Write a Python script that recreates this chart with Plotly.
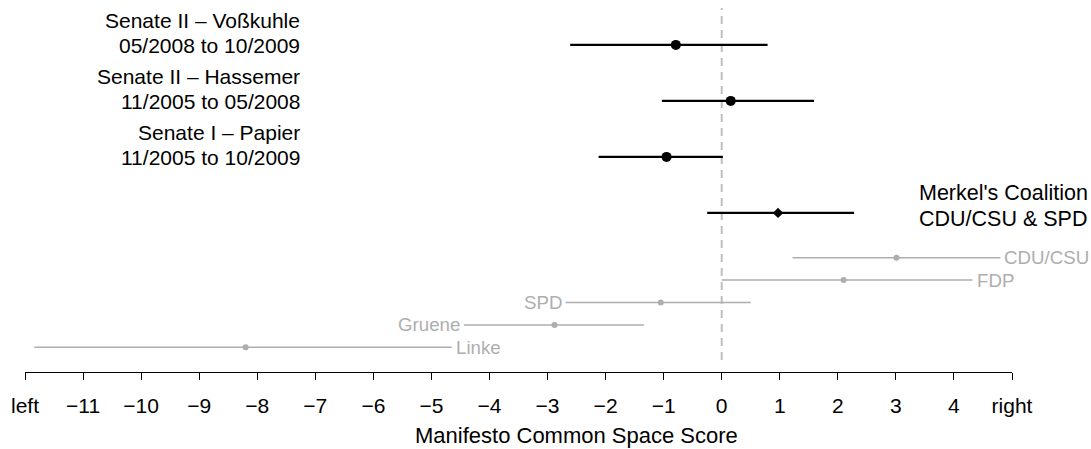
import plotly.graph_objects as go

# ---- data ----
court_names = ["Senate II \u2013 Vo\u00dfkuhle", "Senate II \u2013 Hassemer", "Senate I \u2013 Papier"]
court_periods = ["05/2008 to 10/2009", "11/2005 to 05/2008", "11/2005 to 10/2009"]
court_rows = [13.5, 11, 8.5]
court_mid = [-0.79, 0.155, -0.95]
court_lo = [-2.61, -1.03, -2.12]
court_hi = [0.79, 1.59, 0.02]

coalition_label = ["Merkel's Coalition", "CDU/CSU & SPD"]
coalition_row = 6
coalition_mid = 0.97
coalition_lo = -0.25
coalition_hi = 2.28

parties = ["CDU/CSU", "FDP", "SPD", "Gruene", "Linke"]
party_rows = [4, 3, 2, 1, 0]
party_mid = [3.01, 2.10, -1.05, -2.88, -8.20]
party_lo = [1.22, 0.00, -2.69, -4.44, -11.84]
party_hi = [4.80, 4.32, 0.50, -1.34, -4.65]

tick_vals = list(range(-12, 6))
tick_text = ["left"] + [("\u2212" + str(-v)) if v < 0 else str(v) for v in tick_vals[1:-1]] + ["right"]
x_title = "Manifesto Common Space Score"

# ---- styling ----
FONT = "Liberation Sans, Arial, Helvetica, sans-serif"
GREY = "#AEAEAE"
fig = go.Figure()

# dashed zero line
fig.add_shape(type="line", xref="x", yref="y", x0=0, x1=0, y0=-0.57, y1=15.15,
              line=dict(color="#BEBEBE", width=2, dash="8px,6px"), layer="below")

# party lines
for name, r, m, lo, hi in zip(parties, party_rows, party_mid, party_lo, party_hi):
    fig.add_trace(go.Scatter(x=[lo, hi], y=[r, r], mode="lines",
                             line=dict(color=GREY, width=1.5), hoverinfo="skip"))
fig.add_trace(go.Scatter(x=party_mid, y=party_rows, mode="markers",
                         marker=dict(color=GREY, size=6), hoverinfo="skip"))

# coalition
fig.add_trace(go.Scatter(x=[coalition_lo, coalition_hi], y=[coalition_row, coalition_row],
                         mode="lines", line=dict(color="black", width=2.3), hoverinfo="skip"))
fig.add_trace(go.Scatter(x=[coalition_mid], y=[coalition_row], mode="markers",
                         marker=dict(color="black", size=8, symbol="diamond"), hoverinfo="skip"))

# courts
for r, lo, hi in zip(court_rows, court_lo, court_hi):
    fig.add_trace(go.Scatter(x=[lo, hi], y=[r, r], mode="lines",
                             line=dict(color="black", width=2.3), hoverinfo="skip"))
fig.add_trace(go.Scatter(x=court_mid, y=court_rows, mode="markers",
                         marker=dict(color="black", size=10), hoverinfo="skip"))

ann = []
# court labels
for name, period, r in zip(court_names, court_periods, court_rows):
    ann.append(dict(x=-7.23, y=r, xref="x", yref="y", text=name, showarrow=False,
                    xanchor="right", yanchor="middle", yshift=24,
                    font=dict(family=FONT, size=21, color="black")))
    ann.append(dict(x=-7.23, y=r, xref="x", yref="y", text=period, showarrow=False,
                    xanchor="right", yanchor="middle", yshift=-1,
                    font=dict(family=FONT, size=21, color="black")))
# coalition label
for txt, ys in zip(coalition_label, [19.7, -6.3]):
    ann.append(dict(x=3.36, y=coalition_row, xref="x", yref="y", text=txt, showarrow=False,
                    xanchor="left", yanchor="middle", yshift=ys,
                    font=dict(family=FONT, size=21.5, color="black")))
# party labels
right_side = {"CDU/CSU", "FDP", "Linke"}
for name, r, lo, hi in zip(parties, party_rows, party_lo, party_hi):
    if name in right_side:
        ann.append(dict(x=hi, y=r, xref="x", yref="y", text=name, showarrow=False,
                        xanchor="left", yanchor="middle", xshift=2,
                        font=dict(family=FONT, size=18.7, color=GREY)))
    else:
        ann.append(dict(x=lo, y=r, xref="x", yref="y", text=name, showarrow=False,
                        xanchor="right", yanchor="middle", xshift=-2,
                        font=dict(family=FONT, size=18.7, color=GREY)))
# axis title
ann.append(dict(x=-2.5, y=-0.172, xref="x", yref="paper", text=x_title, showarrow=False,
                xanchor="center", yanchor="middle",
                font=dict(family=FONT, size=22, color="black")))

fig.update_layout(
    width=1091, height=449,
    margin=dict(l=25, r=79, t=0, b=77),
    plot_bgcolor="white", paper_bgcolor="white",
    showlegend=False,
    annotations=ann,
    font=dict(family=FONT, color="black"),
    xaxis=dict(range=[-12, 5], tickvals=tick_vals, ticktext=tick_text,
               showline=True, linecolor="black", linewidth=1,
               ticks="outside", ticklen=7, tickcolor="black", tickwidth=1,
               showgrid=False, zeroline=False, ticklabelstandoff=8,
               tickfont=dict(family=FONT, size=21, color="black")),
    yaxis=dict(range=[-1.1027, 15.504], visible=False, showgrid=False, zeroline=False),
)

fig.write_html("out.html")
